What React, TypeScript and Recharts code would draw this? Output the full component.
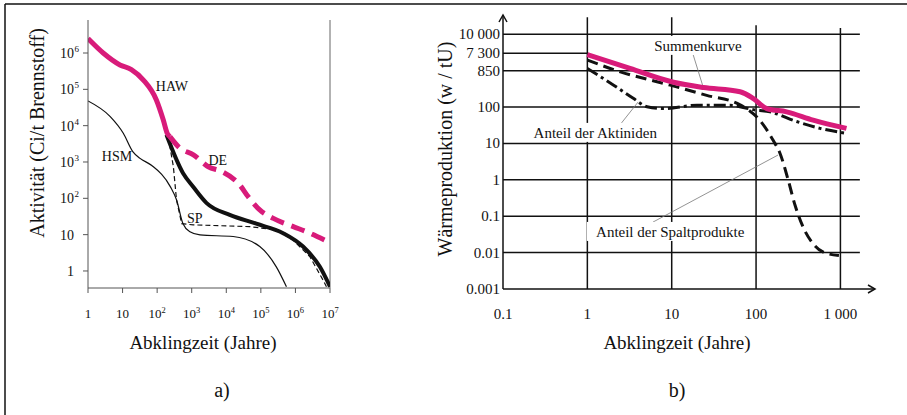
import { LineChart, Line, XAxis, YAxis, ReferenceLine, ReferenceDot } from 'recharts'

const FONT = '"Liberation Serif", "Times New Roman", serif'
const PINK = '#d81b7a'
const INK = '#111'

// ---------- a) Aktivität ----------
const xTicksA = [1, 10, 1e2, 1e3, 1e4, 1e5, 1e6, 1e7]
const xTickBaseA = ['1', '10', '10', '10', '10', '10', '10', '10']
const xTickExpA = ['', '', '2', '3', '4', '5', '6', '7']
const yTicksA = [1, 10, 1e2, 1e3, 1e4, 1e5, 1e6]
const yTickBaseA = ['1', '10', '10', '10', '10', '10', '10']
const yTickExpA = ['', '', '2', '3', '4', '5', '6']

const hawT = [1, 2.75, 8.4, 18, 40, 95, 150, 195, 234]
const hawV = [2.5e6, 1.0e6, 4.7e5, 3.5e5, 1.8e5, 5.1e4, 1.45e4, 6200, 5000]

const deT = [234, 457, 1120, 3020, 7300, 24500, 42700, 93000, 2.3e5, 8.7e5, 2.1e6, 7e6]
const deV = [5000, 2400, 1580, 740, 550, 234, 112, 48, 28, 16.6, 12, 7.1]

const restT = [186, 562, 1100, 2700, 12600, 74000, 4.4e5, 1.66e6, 5.1e6, 1e7]
const restV = [5600, 490, 209, 74, 35, 20, 11, 4.7, 1.3, 0.37]

const spT = [209, 295, 363, 513, 1100, 48000, 2.8e5, 8.5e5, 2.6e6, 6.3e6, 7.9e6]
const spV = [5000, 740, 91, 20, 18.6, 16.6, 13.5, 7.1, 2.5, 0.56, 0.37]

const hsmT = [1, 4.4, 10.5, 20, 32, 70, 240, 363, 560, 890, 1740, 15800, 93000, 2.8e5, 5.5e5]
const hsmV = [48000, 17800, 6200, 1900, 1260, 800, 210, 91, 20, 12, 9.8, 8.9, 4.7, 1.3, 0.37]

const labelsA = [
  { text: 'HAW', t: 268, v: 1.26e5 },
  { text: 'HSM', t: 6.9, v: 1480 },
  { text: 'DE', t: 5700, v: 1150 },
  { text: 'SP', t: 1230, v: 29 },
]

// ---------- b) Wärmeproduktion ----------
const xTicksB = [0.1, 1, 10, 100, 1000]
const xTickLabelsB = ['0.1', '1', '10', '100', '1 000']
const yTicksB = [0.001, 0.01, 0.1, 1, 10, 100, 1000, 3000, 10000]
const yTickLabelsB = ['0.001', '0.01', '0.1', '1', '10', '100', '850', '7 300', '10 000']
const hGridB = [0.01, 0.1, 1, 10, 100, 1000, 10000]
const vGridB = [1, 10, 100, 1000]
const vGridTopB = [29500, 29500, 17800, 14800]

const sumT = [1, 3.2, 10.5, 23.8, 64.6, 92, 134, 230, 475, 1180]
const sumV = [2750, 1150, 480, 345, 263, 174, 91, 74, 44, 26]

const spaltT = [1, 2.46, 9.6, 26, 64.6, 112, 160, 192, 240, 290, 360, 470, 620, 960]
const spaltV = [1950, 930, 400, 210, 115, 42, 12, 5.4, 1.0, 0.2, 0.051, 0.018, 0.0104, 0.0083]

const aktT = [1, 2.05, 3.5, 5.1, 8, 20, 49, 93, 146, 302, 573, 1180]
const aktV = [1150, 400, 174, 102, 91, 112, 112, 85, 74, 40, 26, 19]

const labelsB = [
  { text: 'Summenkurve', t: 20.5, v: 4800 },
  { text: 'Anteil der Aktiniden', t: 1.24, v: 19.5 },
  { text: 'Anteil der Spaltprodukte', t: 9.6, v: 0.037 },
]
const leadersB = [
  [{ x: 18, y: 2700 }, { x: 23.6, y: 355 }],
  [{ x: 4.0, y: 138 }, { x: 2.26, y: 26 }],
  [{ x: 6.0, y: 0.069 }, { x: 182, y: 4.8 }],
]

const pts = (t: number[], v: number[]) => t.map((x, i) => ({ t: x, v: v[i] }))

function XTickA(props: any) {
  const { x, y, payload } = props
  const i = xTicksA.indexOf(payload.value)
  return (
    <text x={x} y={y + 23} textAnchor="middle" fontSize={13} fontFamily={FONT} fill={INK}>
      {xTickBaseA[i]}
      {xTickExpA[i] && (
        <tspan dy={-5} fontSize={8.5}>
          {xTickExpA[i]}
        </tspan>
      )}
    </text>
  )
}

function YTickA(props: any) {
  const { y, payload } = props
  const i = yTicksA.indexOf(payload.value)
  return (
    <g fontFamily={FONT} fill={INK}>
      <text x={74} y={y + 5} textAnchor="end" fontSize={14}>
        {yTickBaseA[i]}
      </text>
      {yTickExpA[i] && (
        <text x={74.5} y={y - 1} fontSize={9}>
          {yTickExpA[i]}
        </text>
      )}
    </g>
  )
}

function XTickB(props: any) {
  const { x, y, payload } = props
  const i = xTicksB.indexOf(payload.value)
  return (
    <text x={x} y={y + 28} textAnchor="middle" fontSize={15} fontFamily={FONT} fill={INK}>
      {xTickLabelsB[i]}
    </text>
  )
}

function YTickB(props: any) {
  const { x, y, payload } = props
  const i = yTicksB.indexOf(payload.value)
  return (
    <text x={x} y={y + 5} textAnchor="end" fontSize={15} fontFamily={FONT} fill={INK}>
      {yTickLabelsB[i]}
    </text>
  )
}

const plainLabel = (text: string) => (p: any) => (
  <text x={p.cx} y={p.cy + 5} textAnchor="middle" fontSize={14} fontFamily={FONT} fill={INK}>
    {text}
  </text>
)

const boxLabel = (text: string) => (p: any) => {
  const w = text.length * 6.7 + 6
  return (
    <g>
      <rect x={p.cx - w / 2} y={p.cy - 10} width={w} height={19} fill="#fff" />
      <text x={p.cx} y={p.cy + 5} textAnchor="middle" fontSize={15} fontFamily={FONT} fill={INK}>
        {text}
      </text>
    </g>
  )
}

const arrowUp = (p: any) => (
  <polyline
    points={`${p.cx - 4},${p.cy + 7} ${p.cx},${p.cy} ${p.cx + 4},${p.cy + 7}`}
    fill="none"
    stroke={INK}
    strokeWidth={1.5}
  />
)
const arrowRight = (p: any) => (
  <polyline
    points={`${p.cx - 7},${p.cy - 4} ${p.cx},${p.cy} ${p.cx - 7},${p.cy + 4}`}
    fill="none"
    stroke={INK}
    strokeWidth={1.5}
  />
)

function ChartA() {
  return (
    <LineChart
      width={345}
      height={330}
      margin={{ top: 20, right: 15, bottom: 0, left: 0 }}
      style={{ position: 'absolute', left: 0, top: 0 }}
    >
      <XAxis
        type="number"
        dataKey="t"
        scale="log"
        domain={[1, 1e7]}
        allowDataOverflow
        ticks={xTicksA}
        interval={0}
        height={42}
        tickSize={5}
        tickLine={{ stroke: '#555' }}
        axisLine={{ stroke: '#555' }}
        tick={XTickA}
      />
      <YAxis
        type="number"
        dataKey="v"
        scale="log"
        domain={[0.34, 8.1e6]}
        allowDataOverflow
        ticks={yTicksA}
        interval={0}
        width={88}
        tickSize={5}
        tickLine={{ stroke: '#555' }}
        axisLine={{ stroke: '#555' }}
        tick={YTickA}
      />
      <ReferenceLine x={1e7} stroke="#666" ifOverflow="visible" />
      <Line data={pts(hsmT, hsmV)} dataKey="v" type="monotone" stroke={INK} strokeWidth={1.2} dot={false} isAnimationActive={false} />
      <Line data={pts(spT, spV)} dataKey="v" type="linear" stroke={INK} strokeWidth={1.2} strokeDasharray="5 3" dot={false} isAnimationActive={false} />
      <Line data={pts(restT, restV)} dataKey="v" type="monotone" stroke={INK} strokeWidth={4} dot={false} isAnimationActive={false} />
      <Line data={pts(deT, deV)} dataKey="v" type="monotone" stroke={PINK} strokeWidth={5} strokeDasharray="14 8" dot={false} isAnimationActive={false} />
      <Line data={pts(hawT, hawV)} dataKey="v" type="monotone" stroke={PINK} strokeWidth={5} dot={false} isAnimationActive={false} />
      {labelsA.map((l) => (
        <ReferenceDot key={l.text} x={l.t} y={l.v} ifOverflow="visible" shape={plainLabel(l.text)} />
      ))}
    </LineChart>
  )
}

function ChartB() {
  return (
    <LineChart
      width={480}
      height={330}
      margin={{ top: 15, right: 20, bottom: 0, left: 0 }}
      style={{ position: 'absolute', left: 415, top: 0 }}
    >
      <XAxis
        type="number"
        dataKey="t"
        scale="log"
        domain={[0.1, 2570]}
        allowDataOverflow
        ticks={xTicksB}
        interval={0}
        height={41}
        tickSize={0}
        tickLine={false}
        axisLine={{ stroke: INK, strokeWidth: 1.5 }}
        tick={XTickB}
      />
      <YAxis
        type="number"
        dataKey="v"
        scale="log"
        domain={[0.001, 33900]}
        allowDataOverflow
        ticks={yTicksB}
        interval={0}
        width={88}
        tickSize={0}
        tickMargin={3}
        tickLine={false}
        axisLine={{ stroke: INK, strokeWidth: 1.5 }}
        tick={YTickB}
      />
      {hGridB.map((v) => (
        <ReferenceLine
          key={'h' + v}
          segment={[{ x: 0.1, y: v }, { x: 1700, y: v }]}
          stroke={INK}
          strokeWidth={1.5}
          ifOverflow="visible"
        />
      ))}
      <ReferenceLine segment={[{ x: 0.1, y: 3000 }, { x: 1, y: 3000 }]} stroke={INK} strokeWidth={1.5} ifOverflow="visible" />
      {vGridB.map((t, i) => (
        <ReferenceLine
          key={'v' + t}
          segment={[{ x: t, y: 0.001 }, { x: t, y: vGridTopB[i] }]}
          stroke={INK}
          strokeWidth={1.5}
          ifOverflow="visible"
        />
      ))}
      <ReferenceDot x={0.1} y={33900} ifOverflow="visible" shape={arrowUp} />
      <ReferenceDot x={2570} y={0.001} ifOverflow="visible" shape={arrowRight} />
      {leadersB.map((s, i) => (
        <ReferenceLine key={'l' + i} segment={s} stroke="#777" strokeWidth={0.8} ifOverflow="visible" />
      ))}
      {labelsB.map((l) => (
        <ReferenceDot key={l.text} x={l.t} y={l.v} ifOverflow="visible" shape={boxLabel(l.text)} />
      ))}
      <Line data={pts(aktT, aktV)} dataKey="v" type="monotone" stroke={INK} strokeWidth={3} strokeDasharray="12 4 3 4" dot={false} isAnimationActive={false} />
      <Line data={pts(spaltT, spaltV)} dataKey="v" type="monotone" stroke={INK} strokeWidth={3} strokeDasharray="11 6" dot={false} isAnimationActive={false} />
      <Line data={pts(sumT, sumV)} dataKey="v" type="monotone" stroke={PINK} strokeWidth={5} dot={false} isAnimationActive={false} />
    </LineChart>
  )
}

export default function App() {
  return (
    <div
      style={{
        position: 'absolute',
        left: 0,
        top: 0,
        width: 907,
        height: 415,
        background: '#fff',
        overflow: 'hidden',
      }}
    >
      <ChartA />
      <ChartB />
      <svg
        width={907}
        height={415}
        style={{ position: 'absolute', left: 0, top: 0, pointerEvents: 'none' }}
        fontFamily={FONT}
        fill={INK}
      >
        <line x1={5} y1={4} x2={907} y2={4} stroke={INK} strokeWidth={1.5} />
        <line x1={5} y1={4} x2={5} y2={415} stroke={INK} strokeWidth={1.5} />
        <text transform="translate(37,133) rotate(-90)" textAnchor="middle" dominantBaseline="central" fontSize={20}>
          Aktivität (Ci/t Brennstoff)
        </text>
        <text transform="translate(445,149) rotate(-90)" textAnchor="middle" dominantBaseline="central" fontSize={20}>
          Wärmeproduktion (w / tU)
        </text>
        <text x={203} y={349} textAnchor="middle" fontSize={19}>
          Abklingzeit (Jahre)
        </text>
        <text x={677} y={349} textAnchor="middle" fontSize={19}>
          Abklingzeit (Jahre)
        </text>
        <text x={222} y={397} textAnchor="middle" fontSize={20}>
          a)
        </text>
        <text x={677} y={397} textAnchor="middle" fontSize={20}>
          b)
        </text>
      </svg>
    </div>
  )
}
